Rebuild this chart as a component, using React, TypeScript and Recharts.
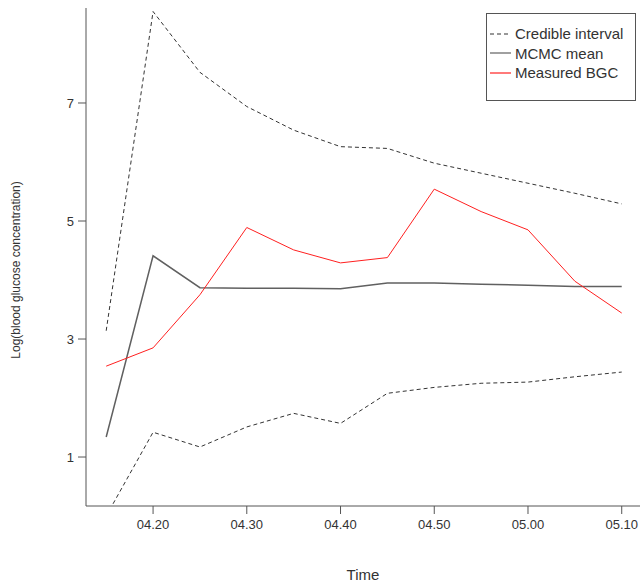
import { CartesianGrid, Line, LineChart, XAxis, YAxis } from "recharts"

// time points, one every 5 minutes
const times = ["04.15", "04.20", "04.25", "04.30", "04.35", "04.40", "04.45", "04.50", "04.55", "05.00", "05.05", "05.10"]

const upperCI = [3.14, 8.55, 7.52, 6.94, 6.54, 6.26, 6.23, 5.98, 5.81, 5.64, 5.47, 5.29]
const lowerCI = [0.0, 1.42, 1.17, 1.51, 1.74, 1.57, 2.08, 2.18, 2.25, 2.27, 2.36, 2.44]
const mcmcMean = [1.34, 4.41, 3.87, 3.86, 3.86, 3.85, 3.95, 3.95, 3.93, 3.91, 3.89, 3.89]
const measured = [2.54, 2.85, 3.75, 4.89, 4.51, 4.29, 4.38, 5.54, 5.16, 4.85, 3.98, 3.44]

const xTickIdx = [1, 3, 5, 7, 9, 11]
const yTicks = [1, 3, 5, 7]

const legendItems = [
  { name: "Credible interval", color: "#333", dash: "4 3" },
  { name: "MCMC mean", color: "#606060", dash: undefined },
  { name: "Measured BGC", color: "#ff2020", dash: undefined },
]

const data = times.map((t, i) => ({
  idx: i,
  time: t,
  upper: upperCI[i],
  lower: lowerCI[i],
  mean: mcmcMean[i],
  bgc: measured[i],
}))

const font = "'Liberation Sans', Arial, sans-serif"
const axisColor = "#555"
const textColor = "#333"

export default function App() {
  return (
    <div style={{ position: "absolute", left: 0, top: 0, width: 640, height: 587, overflow: "hidden", background: "#fff", fontFamily: font }}>
      <LineChart width={640} height={587} data={data} margin={{ top: 8, right: 0, left: 0, bottom: 0 }}>
        <CartesianGrid stroke="none" />
        <XAxis
          dataKey="idx"
          type="number"
          domain={[-0.431, 11.39]}
          allowDataOverflow
          ticks={xTickIdx}
          tickFormatter={(v) => times[v]}
          height={81}
          stroke={axisColor}
          tickSize={8}
          tickMargin={6}
          tick={{ fill: textColor, fontSize: 13, fontFamily: font }}
          label={() => (
            <text x={363} y={580} textAnchor="middle" fill={textColor} fontSize={15} fontFamily={font}>
              Time
            </text>
          )}
        />
        <XAxis xAxisId="top" orientation="top" dataKey="idx" type="number" domain={[-0.431, 11.39]} height={0} tick={false} tickLine={false} stroke={axisColor} />
        <YAxis
          type="number"
          domain={[0.17, 8.61]}
          allowDataOverflow
          ticks={yTicks}
          width={86}
          stroke={axisColor}
          tickSize={8}
          tickMargin={4}
          tick={{ fill: textColor, fontSize: 13, fontFamily: font }}
          label={() => (
            <text x={20} y={270} transform="rotate(-90 20 270)" textAnchor="middle" fill={textColor} fontSize={12} fontFamily={font}>
              Log(blood glucose concentration)
            </text>
          )}
        />
        <Line dataKey="upper" stroke="#333" strokeWidth={1} strokeDasharray="4 3" dot={false} isAnimationActive={false} />
        <Line dataKey="lower" stroke="#333" strokeWidth={1} strokeDasharray="4 3" dot={false} isAnimationActive={false} />
        <Line dataKey="mean" stroke="#606060" strokeWidth={1.5} dot={false} isAnimationActive={false} />
        <Line dataKey="bgc" stroke="#ff2020" strokeWidth={1} dot={false} isAnimationActive={false} />
      </LineChart>
      <div
        style={{
          position: "absolute",
          left: 486,
          top: 13,
          width: 148,
          height: 76,
          border: "1px solid #555",
          background: "#fff",
          paddingTop: 10,
          boxSizing: "content-box",
        }}
      >
        {legendItems.map((item) => (
          <div key={item.name} style={{ display: "flex", alignItems: "center", height: 19.5 }}>
            <svg width={26} height={10} style={{ marginLeft: 2 }}>
              <line x1={1} y1={5} x2={22} y2={5} stroke={item.color} strokeWidth={1.2} strokeDasharray={item.dash} />
            </svg>
            <span style={{ fontSize: 15, color: textColor, lineHeight: "19px" }}>{item.name}</span>
          </div>
        ))}
      </div>
    </div>
  )
}
